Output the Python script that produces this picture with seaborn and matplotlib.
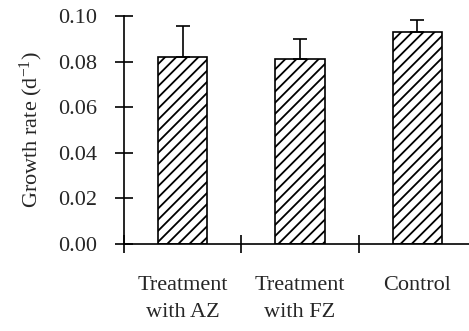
import matplotlib
matplotlib.use("Agg")
import matplotlib.pyplot as plt
import seaborn as sns
from matplotlib.ticker import FixedLocator

# data
categories = ["Treatment\nwith AZ", "Treatment\nwith FZ", "Control"]
growth_rate = [0.0819, 0.0810, 0.0928]
upper_err = [0.0137, 0.0088, 0.0054]
y_ticks = [0.00, 0.02, 0.04, 0.06, 0.08, 0.10]

sns.set_theme(style="white")
plt.rcParams["font.family"] = ["Liberation Serif", "DejaVu Serif"]
plt.rcParams["mathtext.fontset"] = "custom"
plt.rcParams["mathtext.rm"] = "Liberation Serif"
plt.rcParams["mathtext.it"] = "Liberation Serif:italic"
plt.rcParams["hatch.linewidth"] = 1.3
plt.rcParams["hatch.color"] = "black"

fig = plt.figure(figsize=(4.69, 3.31), dpi=100)
ax = fig.add_axes([0.2644, 0.2628, 0.7356, 0.6889])

sns.barplot(x=categories, y=growth_rate, ax=ax, color="white", saturation=1,
            edgecolor="black", linewidth=1.2, hatch="///", width=0.42)
ax.errorbar(range(len(categories)), growth_rate, yerr=[[0] * 3, upper_err],
            fmt="none", ecolor="black", elinewidth=1.2, capsize=5, capthick=1.2)

ax.set_xlim(-0.5, 2.44)
ax.set_ylim(0, 0.10)
ax.set_yticks(y_ticks)
ax.set_yticklabels([f"{t:.2f}" for t in y_ticks], fontsize=16)
ax.set_xticks(range(len(categories)))
ax.set_xticklabels(categories, fontsize=16, linespacing=1.55)
ax.xaxis.set_minor_locator(FixedLocator([-0.5, 0.5, 1.5, 2.5]))

ax.tick_params(axis="y", direction="inout", length=13, width=1.2, pad=13, color="black", left=True)
ax.tick_params(axis="x", which="major", length=0, pad=23)
ax.tick_params(axis="x", which="minor", direction="inout", length=13, width=1.2, bottom=True, color="black")

for side in ["top", "right"]:
    ax.spines[side].set_visible(False)
for side in ["left", "bottom"]:
    ax.spines[side].set_color("black")
    ax.spines[side].set_linewidth(1.2)

ax.set_ylabel("Growth rate (d$^{-1}$)", fontsize=16)
ax.yaxis.set_label_coords(-0.23, 0.5)

fig.savefig("out.png", dpi=100)
